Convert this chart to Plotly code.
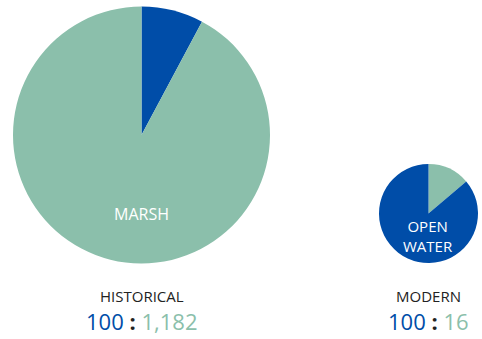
import plotly.graph_objects as go

# Ratio of open water to marsh area, historical vs modern
periods = ["HISTORICAL", "MODERN"]
open_water = [100, 100]
marsh = [1182, 16]
slice_labels = ["MARSH", "OPEN<br>WATER"]

BLUE = "#004da8"
TEAL = "#8bbfab"
W, H = 482, 339

fig = go.Figure()

# Historical: open water slice first, clockwise from 12 o'clock
fig.add_trace(go.Pie(
    values=[open_water[0], marsh[0]],
    labels=["Open water", "Marsh"],
    marker=dict(colors=[BLUE, TEAL], line=dict(width=0)),
    sort=False, direction="clockwise", rotation=0,
    textinfo="none", hoverinfo="label+value",
    domain=dict(x=[13 / W, 270 / W], y=[1 - 264 / H, 1 - 6 / H]),
    showlegend=False,
))

# Modern: marsh slice first, clockwise from 12 o'clock
fig.add_trace(go.Pie(
    values=[marsh[1], open_water[1]],
    labels=["Marsh", "Open water"],
    marker=dict(colors=[TEAL, BLUE], line=dict(width=0)),
    sort=False, direction="clockwise", rotation=0,
    textinfo="none", hoverinfo="label+value",
    domain=dict(x=[379 / W, 478 / W], y=[1 - 263 / H, 1 - 164 / H]),
    showlegend=False,
))

FONT = "Open Sans, Noto Sans, sans-serif"
centers = [141.5 / W, 428 / W]

anns = []
# Slice labels
anns.append(dict(x=centers[0], y=1 - 214 / H, text=slice_labels[0],
                 font=dict(color="white", size=16, family=FONT)))
anns.append(dict(x=centers[1], y=1 - 236 / H, text=slice_labels[1],
                 font=dict(color="white", size=15, family=FONT)))

for i, p in enumerate(periods):
    anns.append(dict(x=centers[i], y=1 - 296 / H, text=p,
                     font=dict(color="#222222", size=15, family=FONT)))
    ratio = (f"<span style='color:{BLUE}'>{open_water[i]:,}</span>"
             f"<span style='color:#222222'>\u00a0<b>:</b>\u00a0</span>"
             f"<span style='color:{TEAL}'>{marsh[i]:,}</span>")
    anns.append(dict(x=centers[i], y=1 - 321 / H, text=ratio,
                     font=dict(size=22, family=FONT)))

for a in anns:
    a.update(xref="paper", yref="paper", showarrow=False,
             xanchor="center", yanchor="middle")

fig.update_layout(
    width=W, height=H,
    margin=dict(l=0, r=0, t=0, b=0),
    paper_bgcolor="white", plot_bgcolor="white",
    annotations=anns,
)

fig.write_html("out.html")
